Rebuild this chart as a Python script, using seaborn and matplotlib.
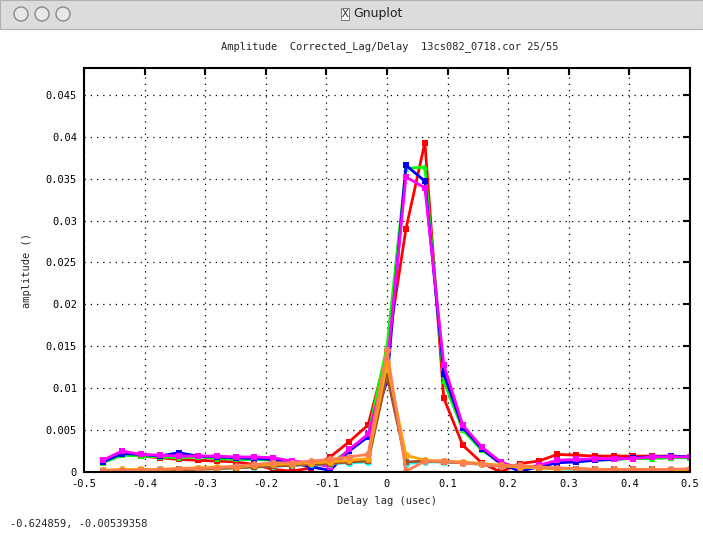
import pandas as pd
import numpy as np
import matplotlib.pyplot as plt
import seaborn as sns
from matplotlib.patches import Circle, Rectangle

# lag axis (usec)
lag = [-0.46875, -0.4375, -0.40625, -0.375, -0.34375, -0.3125, -0.28125, -0.25,
       -0.21875, -0.1875, -0.15625, -0.125, -0.09375, -0.0625, -0.03125, 0.0,
       0.03125, 0.0625, 0.09375, 0.125, 0.15625, 0.1875, 0.21875, 0.25,
       0.28125, 0.3125, 0.34375, 0.375, 0.40625, 0.4375, 0.46875, 0.5]

amp_red = [0.0013, 0.0021, 0.0019, 0.0017, 0.0015, 0.0014, 0.0013, 0.0012,
           0.0009, 0.0003, 0.0001, 0.0005, 0.0018, 0.0036, 0.0056, 0.0142,
           0.0290, 0.0393, 0.0088, 0.0032, 0.0011, 0.0000, 0.0010, 0.0013,
           0.0021, 0.0020, 0.0019, 0.0019, 0.0019, 0.0019, 0.0019, 0.0018]
amp_green = [0.0011, 0.0020, 0.0019, 0.0018, 0.0017, 0.0018, 0.0016, 0.0015,
             0.0015, 0.0014, 0.0011, 0.0007, 0.0010, 0.0026, 0.0044, 0.0150,
             0.0362, 0.0364, 0.0108, 0.0050, 0.0026, 0.0011, 0.0005, 0.0007,
             0.0012, 0.0013, 0.0014, 0.0015, 0.0016, 0.0016, 0.0017, 0.0017]
amp_blue = [0.0012, 0.0022, 0.0021, 0.0019, 0.0023, 0.0019, 0.0018, 0.0017,
            0.0016, 0.0015, 0.0011, 0.0006, 0.0002, 0.0025, 0.0042, 0.0108,
            0.0366, 0.0347, 0.0117, 0.0053, 0.0028, 0.0010, 0.0001, 0.0006,
            0.0011, 0.0012, 0.0014, 0.0015, 0.0017, 0.0018, 0.0019, 0.0018]
amp_magenta = [0.0014, 0.0025, 0.0021, 0.0020, 0.0019, 0.0019, 0.0019, 0.0018,
               0.0018, 0.0017, 0.0013, 0.0011, 0.0006, 0.0027, 0.0045, 0.0125,
               0.0352, 0.0339, 0.0128, 0.0056, 0.0030, 0.0012, 0.0004, 0.0008,
               0.0014, 0.0015, 0.0016, 0.0016, 0.0016, 0.0018, 0.0018, 0.0018]
amp_cyan = [0.0001, 0.0002, 0.0002, 0.0003, 0.0003, 0.0004, 0.0004, 0.0005,
            0.0006, 0.0007, 0.0008, 0.0009, 0.0010, 0.0011, 0.0012, 0.0122,
            0.0010, 0.0012, 0.0012, 0.0011, 0.0009, 0.0007, 0.0006, 0.0005,
            0.0004, 0.0003, 0.0003, 0.0003, 0.0002, 0.0002, 0.0002, 0.0003]
amp_sienna = [0.0001, 0.0001, 0.0002, 0.0002, 0.0003, 0.0003, 0.0004, 0.0005,
              0.0006, 0.0007, 0.0008, 0.0009, 0.0010, 0.0012, 0.0013, 0.0115,
              0.0012, 0.0013, 0.0012, 0.0011, 0.0010, 0.0007, 0.0006, 0.0005,
              0.0004, 0.0004, 0.0003, 0.0003, 0.0003, 0.0003, 0.0002, 0.0002]
amp_orange = [0.0002, 0.0003, 0.0003, 0.0003, 0.0004, 0.0005, 0.0006, 0.0006,
              0.0008, 0.0009, 0.0010, 0.0011, 0.0012, 0.0014, 0.0016, 0.0130,
              0.0020, 0.0014, 0.0013, 0.0012, 0.0010, 0.0008, 0.0006, 0.0005,
              0.0004, 0.0004, 0.0003, 0.0003, 0.0003, 0.0002, 0.0002, 0.0003]
amp_coral = [0.0002, 0.0002, 0.0002, 0.0003, 0.0004, 0.0004, 0.0005, 0.0007,
             0.0009, 0.0011, 0.0011, 0.0013, 0.0015, 0.0018, 0.0021, 0.0145,
             0.0001, 0.0013, 0.0013, 0.0011, 0.0009, 0.0007, 0.0008, 0.0006,
             0.0005, 0.0004, 0.0003, 0.0003, 0.0003, 0.0003, 0.0003, 0.0004]

series = {'red': amp_red, 'green': amp_green, 'blue': amp_blue, 'magenta': amp_magenta,
          'cyan': amp_cyan, 'sienna': amp_sienna, 'orange': amp_orange, 'coral': amp_coral}
colors = {'red': '#ff0000', 'green': '#00ff00', 'blue': '#0000ff', 'magenta': '#ff00ff',
          'cyan': '#00ffff', 'sienna': '#a0522d', 'orange': '#ffa500', 'coral': '#ff7f50'}
marks = {'red': 's', 'green': '^', 'blue': 's', 'magenta': 's',
         'cyan': 'o', 'sienna': 's', 'orange': 'o', 'coral': 'o'}

df = pd.concat([pd.DataFrame({'lag': lag, 'amp': v, 'bl': k}) for k, v in series.items()])

sns.set_style("white")
plt.rcParams['font.family'] = ['DejaVu Sans Mono', 'DejaVu Sans']

fig = plt.figure(figsize=(7.03, 5.35), dpi=100)
ax = fig.add_axes([84/703, 1-472/535, 606/703, 404/535])

sns.lineplot(data=df, x='lag', y='amp', hue='bl', style='bl', hue_order=list(series),
             style_order=list(series), palette=colors, markers=marks, dashes=False,
             linewidth=2, markersize=5, markeredgewidth=0, legend=False, ax=ax)

ax.set_xlim(-0.5, 0.5)
ax.set_ylim(0, 0.0482)
ax.set_xticks(np.arange(-0.5, 0.51, 0.1))
ax.set_xticklabels(['-0.5', '-0.4', '-0.3', '-0.2', '-0.1', '0', '0.1', '0.2', '0.3', '0.4', '0.5'])
ax.set_yticks(np.arange(0, 0.0451, 0.005))
ax.set_yticklabels(['0', '0.005', '0.01', '0.015', '0.02', '0.025', '0.03', '0.035', '0.04', '0.045'])
ax.grid(True, color='black', linestyle=(0, (1, 4)), linewidth=0.9)
ax.tick_params(direction='in', length=5, width=1.5, top=True, right=True,
               labelsize=7.5, colors='black', pad=5)
for s in ax.spines.values():
    s.set_color('black')
    s.set_linewidth(1.5)

ax.set_xlabel('Delay lag (usec)', fontsize=7.5, labelpad=5)
ax.set_ylabel('amplitude ()', fontsize=7.5, labelpad=10)
fig.text(390/703, 1-47/535, 'Amplitude  Corrected_Lag/Delay  13cs082_0718.cor 25/55',
         ha='center', va='center', fontsize=7.5)
fig.text(10/703, 1-524/535, '-0.624859, -0.00539358', ha='left', va='center', fontsize=7.5)

# window title bar
fig.patches.append(Rectangle((0, 1-29/535), 1, 29/535, transform=fig.transFigure,
                             facecolor='#dcdcdc', edgecolor='#b0b0b0', linewidth=0.8))
for cx in [21, 42, 63]:
    fig.patches.append(Circle((cx/100, (535-14)/100), 0.07, transform=fig.dpi_scale_trans,
                              facecolor='#e8e8e8', edgecolor='#8a8a8a', linewidth=1))
fig.text(345/703, 1-14/535, 'X', ha='center', va='center', fontsize=8, color='#333333',
         bbox=dict(boxstyle='square,pad=0.1', facecolor='white', edgecolor='#666666', linewidth=0.6))
fig.text(378/703, 1-14/535, 'Gnuplot', ha='center', va='center', fontsize=9,
         family=['DejaVu Sans'], color='#222222')

fig.savefig('out.png', dpi=100)
